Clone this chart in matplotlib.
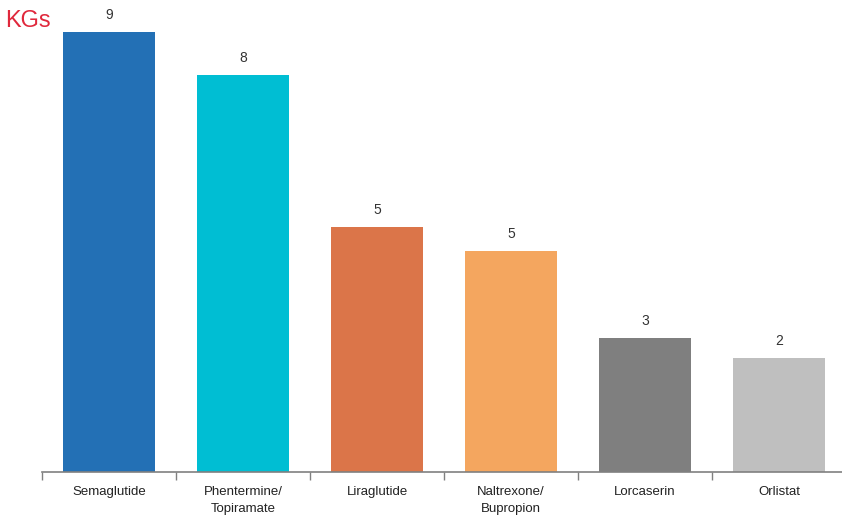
import matplotlib
matplotlib.use("Agg")
import matplotlib.pyplot as plt
import numpy as np

categories = ["Semaglutide", "Phentermine/\nTopiramate", "Liraglutide", "Naltrexone/\nBupropion", "Lorcaserin", "Orlistat"]
values = [9.0, 8.12, 5.01, 4.52, 2.74, 2.33]
colors = ["#2370B5", "#00BED3", "#DB7549", "#F4A65F", "#7F7F7F", "#BFBFBF"]

plt.rcParams['font.family'] = ['Liberation Sans', 'DejaVu Sans']

W, H = 842, 516
fig = plt.figure(figsize=(W/100, H/100), dpi=100)
ax = fig.add_axes([42/W, (H-472)/H, 804/W, 440/H])
x = np.arange(len(categories))
ax.bar(x, values, width=0.68, color=colors)
for xi, v in zip(x, values):
    ax.text(xi, v + 0.2, f"{v:.0f}", ha="center", va="bottom", fontsize=10, color="#333333")
ax.set_xlim(-0.5, len(categories) - 0.5)
ax.set_ylim(0, 9.0)
for s in ["top", "right", "left"]:
    ax.spines[s].set_visible(False)
ax.spines["bottom"].set_color("#808080")
ax.spines["bottom"].set_linewidth(1.2)
ax.set_yticks([])
ax.set_xticks(np.arange(-0.5, len(categories), 1.0))
ax.set_xticklabels([])
ax.tick_params(axis="x", which="major", length=6, color="#808080", width=1)
ax.set_xticks(x, minor=True)
ax.set_xticklabels(categories, minor=True, fontsize=9.5, color="#222222", linespacing=1.55)
ax.tick_params(axis="x", which="minor", length=0, pad=10)
fig.text(5/W, 1 - 27/H, "KGs", color="#E0283C", fontsize=17, ha="left", va="baseline")
fig.savefig("out.png", dpi=100)
